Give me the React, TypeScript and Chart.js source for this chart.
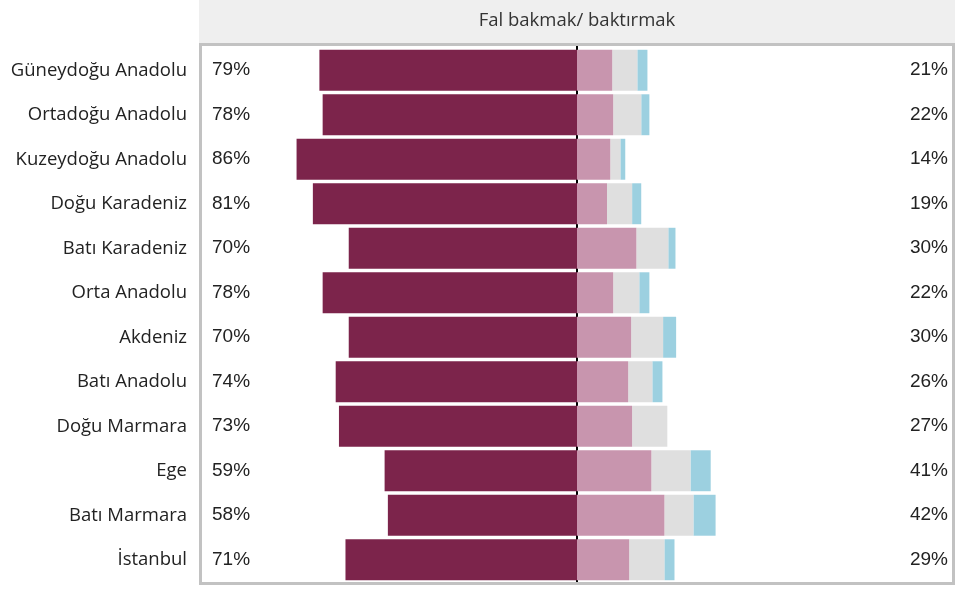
import { useEffect, useRef } from "react";
import { Chart, registerables } from "chart.js";

Chart.register(...registerables);

const chartTitle = "Fal bakmak/ baktırmak";

const categories = [
  "Güneydoğu Anadolu",
  "Ortadoğu Anadolu",
  "Kuzeydoğu Anadolu",
  "Doğu Karadeniz",
  "Batı Karadeniz",
  "Orta Anadolu",
  "Akdeniz",
  "Batı Anadolu",
  "Doğu Marmara",
  "Ege",
  "Batı Marmara",
  "İstanbul",
];

// share on the left (dark bar) and on the right (sum of three segments)
const leftShare = [79, 78, 86, 81, 70, 78, 70, 74, 73, 59, 58, 71];
const rightShare = [21, 22, 14, 19, 30, 22, 30, 26, 27, 41, 42, 29];

// right-side segments
const pinkPart = [10.8, 11.1, 10.2, 9.2, 18.2, 11.1, 16.6, 15.7, 16.9, 22.8, 26.8, 16.0];
const grayPart = [7.7, 8.6, 3.1, 7.7, 9.8, 8.0, 9.8, 7.4, 10.8, 12.0, 8.9, 10.8];
const bluePart = [3.1, 2.5, 1.5, 2.8, 2.2, 3.1, 4.0, 3.1, 0, 6.2, 6.8, 3.1];

const axisMin = -115;
const axisMax = 115;

export default function App() {
  const ref = useRef<HTMLCanvasElement>(null);

  useEffect(() => {
    document.body.style.margin = "0";
    const canvas = ref.current;
    if (!canvas) return;

    const framePlugin = {
      id: "framePlugin",
      beforeDraw(chart: any) {
        const { ctx, chartArea } = chart;
        ctx.save();
        ctx.fillStyle = "#efefef";
        ctx.fillRect(chartArea.left - 3, 0, chart.width - (chartArea.left - 3), chartArea.top - 5);
        ctx.fillStyle = "#333333";
        ctx.font = '18.5px "Open Sans"';
        ctx.textAlign = "center";
        ctx.textBaseline = "middle";
        ctx.fillText(chartTitle, (chartArea.left + chartArea.right) / 2, 21);
        ctx.restore();
      },
      beforeDatasetsDraw(chart: any) {
        const { ctx, chartArea } = chart;
        const x = chart.scales.x.getPixelForValue(0);
        ctx.save();
        ctx.strokeStyle = "#000000";
        ctx.lineWidth = 2;
        ctx.beginPath();
        ctx.moveTo(x, chartArea.top - 2);
        ctx.lineTo(x, chartArea.bottom);
        ctx.stroke();
        ctx.restore();
      },
      afterDraw(chart: any) {
        const { ctx, chartArea } = chart;
        const yScale = chart.scales.y;
        ctx.save();
        ctx.fillStyle = "#222222";
        ctx.font = '19px "Liberation Sans"';
        ctx.textBaseline = "middle";
        categories.forEach((_, i) => {
          const y = yScale.getPixelForValue(i);
          ctx.textAlign = "left";
          ctx.fillText(leftShare[i] + "%", chartArea.left + 10, y);
          ctx.textAlign = "right";
          ctx.fillText(rightShare[i] + "%", chartArea.right - 4, y);
        });
        ctx.strokeStyle = "#c2c2c2";
        ctx.lineWidth = 3;
        ctx.strokeRect(chartArea.left - 1.5, chartArea.top - 3.5, chartArea.right - chartArea.left + 3, chartArea.bottom - chartArea.top + 5);
        ctx.restore();
      },
    };

    const chart = new Chart(canvas, {
      type: "bar",
      data: {
        labels: categories,
        datasets: [
          { label: "left", data: leftShare.map((v) => -v), backgroundColor: "#7c244b" },
          { label: "pink", data: pinkPart, backgroundColor: "#c895ae" },
          { label: "gray", data: grayPart, backgroundColor: "#dfdfdf" },
          { label: "blue", data: bluePart, backgroundColor: "#9cd0e0" },
        ],
      },
      options: {
        indexAxis: "y",
        responsive: false,
        animation: false,
        layout: { padding: { left: 0, right: 3, top: 48, bottom: 10 } },
        datasets: { bar: { barPercentage: 0.92, categoryPercentage: 1 } },
        plugins: {
          legend: { display: false },
          title: { display: false },
          tooltip: { enabled: false },
        },
        scales: {
          x: {
            stacked: true,
            display: false,
            min: axisMin,
            max: axisMax,
          },
          y: {
            stacked: true,
            grid: { display: false, drawTicks: false },
            border: { display: false },
            ticks: {
              color: "#222222",
              font: { family: "Open Sans", size: 18.5 },
              padding: 15,
            },
            afterFit(scale: any) {
              scale.width = 202;
              scale.paddingTop = 0;
              scale.paddingBottom = 0;
            },
          },
        },
      },
      plugins: [framePlugin],
    });

    return () => chart.destroy();
  }, []);

  return (
    <div style={{ width: 955, height: 592 }}>
      <canvas ref={ref} width={955} height={592} style={{ display: "block" }} />
    </div>
  );
}
